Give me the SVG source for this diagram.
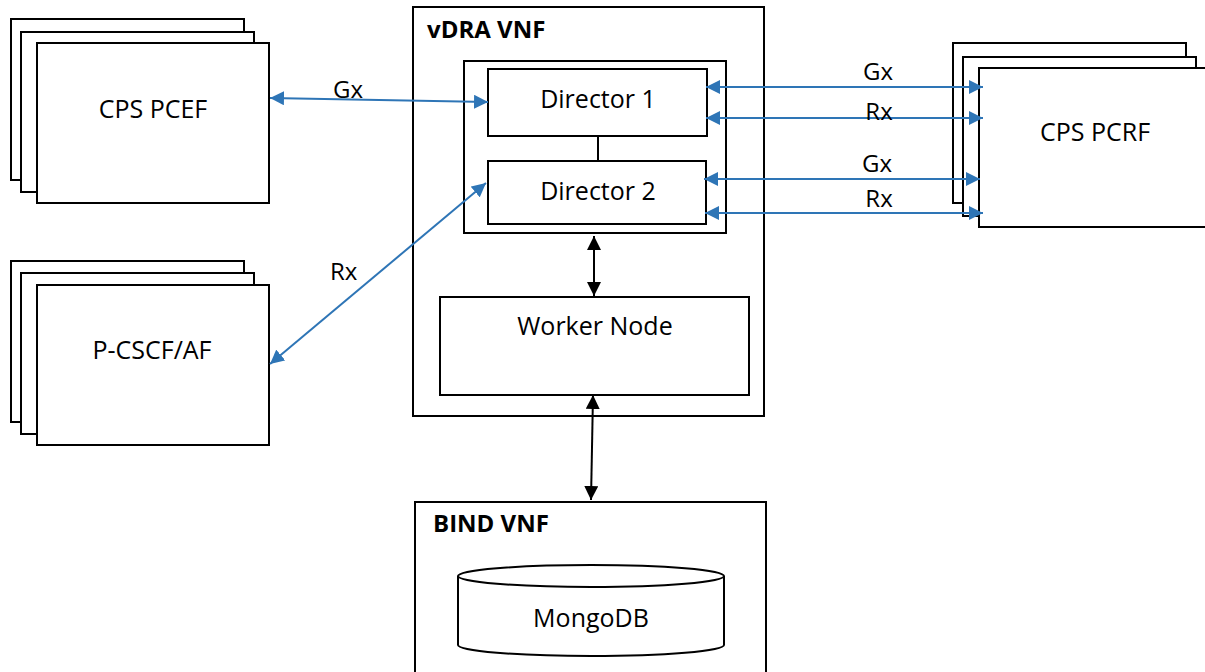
<svg xmlns="http://www.w3.org/2000/svg" width="1205" height="672" viewBox="0 0 1205 672">
<style>
.box{fill:#fff;stroke:#000;stroke-width:2}
.t{font-family:"Open Sans","Liberation Sans",sans-serif;font-size:25px;fill:#000;text-anchor:middle}
.b{font-family:"Open Sans","Liberation Sans",sans-serif;font-size:24px;font-weight:bold;fill:#000}
.lbl{font-family:"Open Sans","Liberation Sans",sans-serif;font-size:24px;fill:#000}
.blue{stroke:#2E75B6;stroke-width:2;fill:none}
.blk{stroke:#000;stroke-width:2;fill:none}
</style>
<defs>
<marker id="ab" viewBox="0 0 14 14" refX="14" refY="7" markerWidth="14" markerHeight="14" markerUnits="userSpaceOnUse" orient="auto-start-reverse"><path d="M0,0 L14,7 L0,14 z" fill="#2E75B6"/></marker>
<marker id="ak" viewBox="0 0 14 14" refX="14" refY="7" markerWidth="14" markerHeight="14" markerUnits="userSpaceOnUse" orient="auto-start-reverse"><path d="M0,0 L14,7 L0,14 z" fill="#000"/></marker>
</defs>

<g id="cps-pcef">
<rect class="box" x="11" y="19" width="233" height="161"/>
<rect class="box" x="21" y="32" width="233" height="160"/>
<rect class="box" x="37" y="43" width="232" height="160"/>
<text class="t" x="153" y="118">CPS PCEF</text>
</g>

<g id="p-cscf">
<rect class="box" x="11" y="261" width="233" height="161"/>
<rect class="box" x="21" y="273" width="233" height="161"/>
<rect class="box" x="37" y="285" width="232" height="160"/>
<text class="t" x="152" y="359">P-CSCF/AF</text>
</g>

<g id="cps-pcrf">
<rect class="box" x="953" y="43" width="233" height="160"/>
<rect class="box" x="963" y="57" width="233" height="159"/>
<rect class="box" x="979" y="68" width="240" height="159"/>
<text class="t" x="1095" y="141">CPS PCRF</text>
</g>

<g id="vdra-vnf">
<rect class="box" x="413" y="7" width="351" height="409"/>
<text class="b" x="427" y="38">vDRA VNF</text>
</g>

<g id="directors">
<rect class="box" x="464" y="61" width="262" height="172"/>
</g>

<g id="director1">
<rect class="box" x="488" y="69" width="219" height="67"/>
<text class="t" x="598" y="108">Director 1</text>
</g>

<g id="director2">
<rect class="box" x="488" y="161" width="218" height="63"/>
<text class="t" x="598" y="200">Director 2</text>
</g>

<g id="worker-node">
<rect class="box" x="440" y="297" width="309" height="98"/>
<text class="t" x="595" y="335">Worker Node</text>
</g>

<g id="bind-vnf">
<rect class="box" x="415" y="502" width="351" height="180"/>
<text class="b" x="433" y="532">BIND VNF</text>
</g>

<g id="mongodb">
<path class="box" d="M458,576 L458,645 A133,11 0 0 0 724,645 L724,576"/>
<ellipse class="box" cx="591" cy="576" rx="133" ry="11"/>
<text class="t" x="591" y="627">MongoDB</text>
</g>

<g id="connectors">
<line class="blk" x1="598" y1="136" x2="598" y2="161"/>
<line class="blk" x1="594" y1="236" x2="594" y2="296" marker-start="url(#ak)" marker-end="url(#ak)"/>
<line class="blk" x1="593" y1="395" x2="591" y2="500" marker-start="url(#ak)" marker-end="url(#ak)"/>
<line class="blue" x1="270" y1="98" x2="488" y2="102" marker-start="url(#ab)" marker-end="url(#ab)"/>
<line class="blue" x1="486" y1="183" x2="270" y2="364" marker-start="url(#ab)" marker-end="url(#ab)"/>
<line class="blue" x1="706" y1="87" x2="983" y2="87" marker-start="url(#ab)" marker-end="url(#ab)"/>
<line class="blue" x1="706" y1="118" x2="983" y2="118" marker-start="url(#ab)" marker-end="url(#ab)"/>
<line class="blue" x1="704" y1="179" x2="980" y2="179" marker-start="url(#ab)" marker-end="url(#ab)"/>
<line class="blue" x1="705" y1="213" x2="983" y2="213" marker-start="url(#ab)" marker-end="url(#ab)"/>
<text class="lbl" x="333" y="98">Gx</text>
<text class="lbl" x="330" y="280">Rx</text>
<text class="lbl" x="878" y="80" text-anchor="middle">Gx</text>
<text class="lbl" x="879" y="120" text-anchor="middle">Rx</text>
<text class="lbl" x="877" y="172" text-anchor="middle">Gx</text>
<text class="lbl" x="879" y="207" text-anchor="middle">Rx</text>
</g>
</svg>
